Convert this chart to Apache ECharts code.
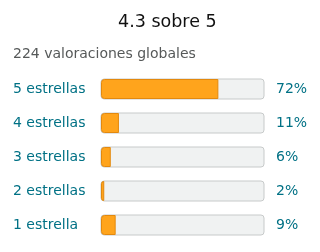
<!DOCTYPE html>
<html>
<head>
<meta charset="utf-8">
<script src="https://cdn.jsdelivr.net/npm/echarts@6/dist/echarts.min.js"></script>
<style>
  html, body { margin: 0; padding: 0; background: #fff; }
  #chart { width: 320px; height: 252px; }
</style>
</head>
<body>
<div id="chart"></div>
<script>
  // data
  let categories = ['5 estrellas', '4 estrellas', '3 estrellas', '2 estrellas', '1 estrella'];
  let percents = [72, 11, 6, 2, 9];
  let percentLabels = ['72%', '11%', '6%', '2%', '9%'];
  let titleText = '4.3 sobre 5';
  let subText = '224 valoraciones globales';

  let dom = document.getElementById('chart');
  let myChart = echarts.init(dom);
  let font = 'DejaVu Sans';
  let option = {
    animation: false,
    title: [
      {
        text: titleText,
        left: 118,
        top: 13,
        padding: 0,
        textStyle: { fontFamily: font, fontSize: 17.5, fontWeight: 'normal', color: '#111' }
      },
      {
        text: subText,
        left: 13,
        top: 47,
        padding: 0,
        textStyle: { fontFamily: font, fontSize: 14, fontWeight: 'normal', color: '#565959' }
      }
    ],
    grid: { left: 101, right: 56, top: 72, bottom: 10 },
    xAxis: { type: 'value', min: 0, max: 100, show: false },
    yAxis: [
      {
        type: 'category',
        data: categories,
        inverse: true,
        axisLine: { show: false },
        axisTick: { show: false },
        axisLabel: { align: 'left', margin: 88, color: '#007185', fontFamily: font, fontSize: 14 }
      },
      {
        type: 'category',
        data: percentLabels,
        inverse: true,
        position: 'right',
        axisLine: { show: false },
        axisTick: { show: false },
        axisLabel: { align: 'left', margin: 12, color: '#007185', fontFamily: font, fontSize: 14 }
      }
    ],
    series: [
      {
        type: 'bar',
        data: percents,
        barWidth: 20,
        showBackground: true,
        backgroundStyle: { color: '#f0f2f2', borderColor: '#c7caca', borderWidth: 1, borderRadius: 3 },
        itemStyle: { color: '#ffa41c', borderColor: '#e3890e', borderWidth: 1, borderRadius: [3, 0, 0, 3] }
      }
    ]
  };
  myChart.setOption(option);
  window.addEventListener('resize', () => { myChart.resize() });
</script>
</body>
</html>
